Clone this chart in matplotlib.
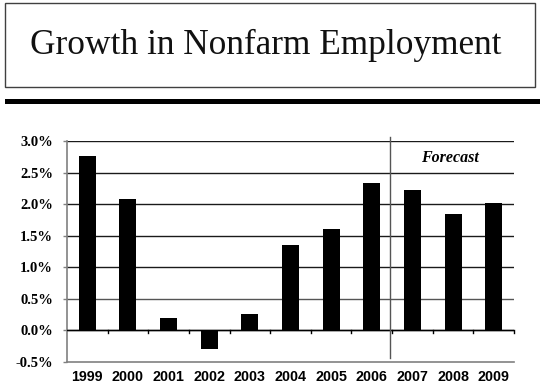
import matplotlib
matplotlib.use("Agg")
import matplotlib.pyplot as plt
from matplotlib.patches import Rectangle
from matplotlib.ticker import FuncFormatter

years = ["1999", "2000", "2001", "2002", "2003", "2004",
         "2005", "2006", "2007", "2008", "2009"]
growth = [2.76, 2.08, 0.20, -0.30, 0.26, 1.36, 1.61, 2.34, 2.22, 1.84, 2.02]
y_ticks = [-0.5, 0.0, 0.5, 1.0, 1.5, 2.0, 2.5, 3.0]
title = "Growth in Nonfarm Employment"
forecast_label = "Forecast"

W, H = 540, 391
fig = plt.figure(figsize=(W / 100, H / 100), dpi=100)
fig.patch.set_facecolor("white")

# Title box and the heavy rule under it
fig.patches.append(Rectangle((5 / W, 1 - 87 / H), 530 / W, 84 / H,
                             transform=fig.transFigure, fill=False,
                             edgecolor="#404040", linewidth=1.0))
fig.patches.append(Rectangle((5 / W, 1 - 104 / H), 535 / W, 5 / H,
                             transform=fig.transFigure, facecolor="black",
                             edgecolor="none"))
fig.text(266 / W, 1 - 45 / H, title, ha="center", va="center",
         fontsize=25.4, family="Liberation Serif", color="#111111")

# Chart area
ax = fig.add_axes([67 / W, 1 - 362 / H, 447 / W, 221 / H])
x = list(range(len(years)))
ax.bar(x, growth, width=0.42, color="black", zorder=3)

ax.set_xlim(-0.5, len(years) - 0.5)
ax.set_ylim(-0.5, 3.0)
ax.set_yticks(y_ticks)
ax.yaxis.set_major_formatter(FuncFormatter(lambda v, p: f"{v:.1f}%"))
for v in y_ticks[1:]:
    ax.axhline(v, color="#1a1a1a" if v != 0.5 else "#555555",
               linewidth=1.0, zorder=1)
ax.axhline(-0.5, color="#808080", linewidth=1.2, zorder=1, clip_on=False)
ax.axhline(0.0, color="black", linewidth=1.0, zorder=4)

# Category separator ticks on the zero line
for b in [i + 0.5 for i in x]:
    ax.plot([b, b], [0.0, -0.035], color="black", linewidth=1.0,
            zorder=4, clip_on=False)

for side in ("top", "right", "bottom"):
    ax.spines[side].set_visible(False)
ax.spines["left"].set_color("#808080")
ax.spines["left"].set_linewidth(1.2)

ax.tick_params(axis="y", length=3, width=1, color="#808080", pad=7)
ax.tick_params(axis="x", length=0, pad=5.5)
ax.set_xticks(x)
ax.set_xticklabels(years)
for lab in ax.get_yticklabels():
    lab.set_family("Liberation Serif")
    lab.set_fontweight("bold")
    lab.set_fontsize(10.5)
for lab in ax.get_xticklabels():
    lab.set_family("Liberation Sans")
    lab.set_fontweight("bold")
    lab.set_fontsize(10.3)

# Forecast divider and label
ax.plot([7.45, 7.45], [3.06, -0.43], color="#555555", linewidth=1.0,
        zorder=5, clip_on=False)
ax.text(8.92, 2.73, forecast_label, ha="center", va="center",
        family="Liberation Serif", fontweight="bold", style="italic",
        fontsize=11.5, zorder=5)

fig.savefig("out.png", dpi=100, facecolor="white")
